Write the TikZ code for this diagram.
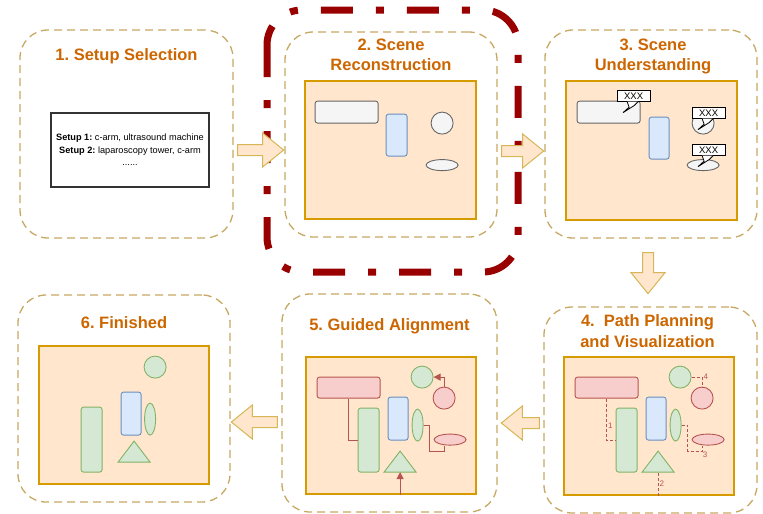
\documentclass[tikz,border=0pt]{standalone}
\usepackage{fontspec}
\setmainfont{Liberation Sans}
\usepackage{xcolor}
\usepackage{tikz}
\usetikzlibrary{arrows.meta,positioning,shapes.geometric,calc}
\frenchspacing

\definecolor{stageline}{RGB}{200,168,100}
\definecolor{titlecol}{HTML}{CC6600}
\definecolor{panelfill}{HTML}{FFE6CC}
\definecolor{panelline}{HTML}{D79B00}
\definecolor{arrowline}{HTML}{D6B656}
\definecolor{greyfill}{HTML}{F5F5F5}
\definecolor{greyline}{HTML}{666666}
\definecolor{bluefill}{HTML}{DAE8FC}
\definecolor{blueline}{HTML}{6C8EBF}
\definecolor{greenfill}{HTML}{D5E8D4}
\definecolor{greenline}{HTML}{82B366}
\definecolor{redfill}{HTML}{F8CECC}
\definecolor{redline}{HTML}{B85450}
\definecolor{focusred}{HTML}{990000}

\tikzset{
  pics/blockarr/.style={code={
    \draw[bigarrow] (0,-5.5) -- (#1-21,-5.5) -- (#1-21,-17) -- (#1,0)
      -- (#1-21,17) -- (#1-21,5.5) -- (0,5.5) -- cycle;
  }},
  pics/xxxnote/.style={code={
    \draw[fill=white,line width=0.8pt] (0,0) rectangle (33,11.5);
    \node[font=\fontsize{9.5}{9.5}\selectfont,inner sep=0pt] at (16.5,6) {XXX};
    \draw[fill=white,line width=0.8pt,line join=miter]
      (10,11.5) -- (12,17) -- (6,22.5) -- (17,15.5) -- (21,11.5);
  }}
}

% objects shared by the planning and alignment panels
\newcommand{\alignscene}[1]{%
  \node[redobj,box,minimum width=63pt,minimum height=21pt] (#1bed) at (43.5,31.5) {};
  \node[greenobj,box,minimum width=21pt,minimum height=64pt] (#1tall) at (63.5,84) {};
  \node[blueobj,box,minimum width=20pt,minimum height=43pt] (#1blue) at (93,62.5) {};
  \node[greenobj,vell] (#1oval) at (112.5,69) {};
  \node[greenobj,circ] (#1ball) at (117,21) {};
  \node[redobj,circ] (#1goal) at (139,42) {};
  \node[redobj,ell] (#1disc) at (145,83.5) {};
  \draw[greenobj] (79,116) -- (95,95) -- (111,116) -- cycle;
  \coordinate (#1base) at (95,116);
}

\begin{document}
\begin{tikzpicture}[x=1pt,y=-1pt,
  stage/.style={draw=stageline,line width=1.3pt,dash pattern=on 8pt off 5pt,
                rounded corners=28pt,inner sep=0pt},
  title/.style={font=\bfseries\fontsize{16.5}{20.5}\selectfont,text=titlecol,
                align=center,inner sep=0pt},
  panel/.style={draw=panelline,fill=panelfill,line width=1.8pt,inner sep=0pt},
  obj/.style={line width=0.9pt,inner sep=0pt},
  greyobj/.style={obj,draw=greyline,fill=greyfill},
  blueobj/.style={obj,draw=blueline,fill=bluefill},
  greenobj/.style={obj,draw=greenline,fill=greenfill},
  redobj/.style={obj,draw=redline,fill=redfill},
  box/.style={rectangle,rounded corners=2.5pt},
  circ/.style={circle,minimum size=22pt},
  ell/.style={ellipse,minimum width=32pt,minimum height=11pt},
  vell/.style={ellipse,minimum width=11pt,minimum height=32pt},
  pathdash/.style={draw=redline,line width=0.8pt,dash pattern=on 3pt off 2pt},
  pathsolid/.style={draw=redline,line width=0.9pt},
  pathtip/.style={-{Triangle[length=7pt,width=7pt]}},
  steplabel/.style={font=\fontsize{8}{9}\selectfont,text=redline,inner sep=1pt},
  bigarrow/.style={draw=arrowline,fill=panelfill,line width=1pt},
  focus/.style={draw=focusred,line width=7pt,
                dash pattern=on 32pt off 23pt on 8pt off 23pt,rounded corners=35pt}]
  \useasboundingbox (0,0) rectangle (763,514);

  % highlighted stage
  \draw[focus] (267,10) rectangle (518,272);

  % stages
  \node[stage,minimum width=213pt,minimum height=208pt] (stage1) at (126.5,134) {};
  \node[stage,minimum width=212pt,minimum height=205pt] (stage2) at (391,134.5) {};
  \node[stage,minimum width=212pt,minimum height=208pt] (stage3) at (651,134) {};
  \node[stage,minimum width=213pt,minimum height=206pt] (stage4) at (650.5,410) {};
  \node[stage,minimum width=215pt,minimum height=218pt] (stage5) at (389.5,403) {};
  \node[stage,minimum width=212pt,minimum height=207pt] (stage6) at (124,398.5) {};

  \node[title,below=19pt of stage1.north] (title1) {1. Setup Selection};
  \node[title,below=7pt of stage2.north] (title2) {2. Scene\\Reconstruction};
  \node[title,below=9pt of stage3.north,xshift=2pt] (title3) {3. Scene\\Understanding};
  \node[title,below=8pt of stage4.north,xshift=-3pt] (title4) {4.\ \ Path Planning\\and Visualization};
  \node[title,below=25pt of stage5.north] (title5) {5. Guided Alignment};
  \node[title,below=22pt of stage6.north] (title6) {6. Finished};

  % 1: candidate setups
  \node[draw=black!80,line width=1.1pt,minimum width=158pt,minimum height=74pt,
        align=center,font=\fontsize{9.2}{12.5}\selectfont] (setups) at (130,150)
    {\textbf{Setup 1:} c-arm, ultrasound machine\\
     \textbf{Setup 2:} laparoscopy tower, c-arm\\ ......};

  % 2: reconstructed room
  \node[panel,minimum width=171pt,minimum height=138pt] (panel2) at (390.5,150) {};
  \begin{scope}[shift={(panel2.north west)}]
    \node[greyobj,box,minimum width=63pt,minimum height=22pt] (p2wide) at (42.5,32) {};
    \node[blueobj,box,minimum width=21pt,minimum height=42pt] (p2blue) at (92.5,55) {};
    \node[greyobj,circ] (p2ball) at (138,43) {};
    \node[greyobj,ell] (p2disc) at (138,85) {};
  \end{scope}

  % 3: labelled objects
  \node[panel,minimum width=171pt,minimum height=139pt] (panel3) at (651.5,150.5) {};
  \begin{scope}[shift={(panel3.north west)}]
    \node[greyobj,box,minimum width=63pt,minimum height=22pt] (p3wide) at (43.5,32) {};
    \node[blueobj,box,minimum width=20pt,minimum height=42pt] (p3blue) at (94,58) {};
    \node[greyobj,circ] (p3ball) at (138,43) {};
    \node[greyobj,ell] (p3disc) at (138,85) {};
    \pic at (52,10) {xxxnote};
    \pic at (127,27) {xxxnote};
    \pic at (127,64) {xxxnote};
  \end{scope}

  % 4: planned moves
  \node[panel,minimum width=170pt,minimum height=138pt] (panel4) at (649,426) {};
  \begin{scope}[shift={(panel4.north west)}]
    \alignscene{p4}
  \end{scope}
  \draw[pathdash] (p4bed.south) |- node[steplabel,right,pos=0.33]{1} (p4tall.west);
  \draw[pathdash] (p4base |- panel4.south) -- node[steplabel,right]{2} (p4base);
  \draw[pathdash] (p4oval.east) -- ++(6,0) -- ++(0,26)
    -| node[steplabel,pos=0.5,below right=-1pt]{3} ($(p4disc.south)+(-6,0)$);
  \draw[pathdash] (p4ball.east) -| node[steplabel,pos=0.5,right]{4} (p4goal.north);

  % 5: moves carried out
  \node[panel,minimum width=170pt,minimum height=137pt] (panel5) at (391,425.5) {};
  \begin{scope}[shift={(panel5.north west)}]
    \alignscene{p5}
  \end{scope}
  \draw[pathsolid] (p5bed.south) |- (p5tall.west);
  \draw[pathsolid,pathtip] (p5base |- panel5.south) -- (p5base);
  \draw[pathsolid] (p5oval.east) -- ++(6,0) -- ++(0,26) -| ($(p5disc.south)+(-6,0)$);
  \draw[pathsolid,pathtip] (p5goal.north) |- (p5ball.east);

  % 6: final layout
  \node[panel,minimum width=170pt,minimum height=138pt] (panel6) at (124,415) {};
  \begin{scope}[shift={(panel6.north west)}]
    \node[greenobj,circ] (p6ball) at (117,22) {};
    \node[blueobj,box,minimum width=20pt,minimum height=43pt] (p6blue) at (93,68.5) {};
    \node[greenobj,vell] (p6oval) at (112,74) {};
    \node[greenobj,box,minimum width=21pt,minimum height=65pt] (p6tall) at (53.5,94.5) {};
    \draw[greenobj] (80,117) -- (96,96) -- (112,117) -- cycle;
  \end{scope}

  % flow between stages
  \pic at ($(stage1.east)+(4,16)$) {blockarr=46};
  \pic at ($(stage2.east)+(4,16.5)$) {blockarr=42};
  \pic[rotate=-90] at ($(stage3.south)+(-3,14)$) {blockarr=41};
  \pic[rotate=180] at ($(stage4.west)+(-4,13)$) {blockarr=38};
  \pic[rotate=180] at ($(stage5.west)+(-4,19)$) {blockarr=46};
\end{tikzpicture}
\end{document}
